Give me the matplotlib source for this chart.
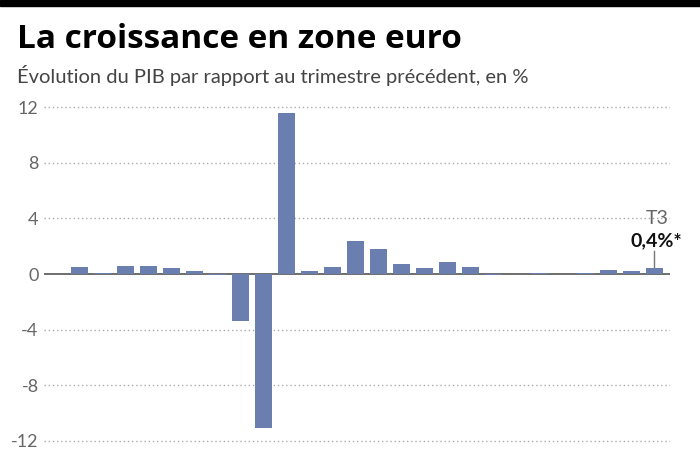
import numpy as np
import matplotlib.pyplot as plt
from matplotlib.patches import Rectangle

# Quarterly GDP growth, euro zone (% vs previous quarter)
growth = [0.5, 0.1, 0.6, 0.6, 0.4, 0.2, -0.1, -3.4, -11.1, 11.6,
          0.2, 0.5, 2.4, 1.8, 0.7, 0.4, 0.9, 0.5, -0.1, 0.0,
          0.1, 0.0, 0.1, 0.3, 0.2, 0.4]
y_ticks = [-12, -8, -4, 0, 4, 8, 12]
last_label = "T3"
last_value = "0,4%*"

bar_color = "#6a7fb0"
font = "Lato"

fig = plt.figure(figsize=(7, 4.5), dpi=100)
ax = fig.add_axes([0.063, 0.014, 0.894, 0.754])

x = np.arange(len(growth))
ax.bar(x, growth, width=0.74, color=bar_color, zorder=3)

ax.set_xlim(-1.54, 25.67)
ax.set_ylim(-12.2, 12.2)

# Dotted grid and solid zero line.
for t in y_ticks:
    if t == 0:
        ax.axhline(0, color="#555555", lw=1.2, zorder=2)
    else:
        ax.axhline(t, color="#aaaaaa", lw=1.0, ls=(0, (1, 2)), zorder=1)

ax.set_yticks(y_ticks)
ax.set_yticklabels([str(t) for t in y_ticks], fontsize=13, color="#666666",
                   fontfamily=font)
ax.tick_params(axis="y", length=0, pad=4)
ax.set_xticks([])
for s in ax.spines.values():
    s.set_visible(False)

# Annotation on the last quarter.
xl = x[-1]
ax.plot([xl, xl], [growth[-1], 1.65], color="#777777", lw=1.0, zorder=2)
ax.text(xl + 0.1, 4.0, last_label, ha="center", va="center", fontsize=14,
        color="#666666", fontfamily=font)
ax.text(xl + 0.1, 2.4, last_value, ha="center", va="center", fontsize=14,
        color="#111111", fontfamily=font, fontweight="bold")

# Header.
fig.patches.append(Rectangle((0, 1 - 6 / 450), 1, 6 / 450,
                             transform=fig.transFigure, color="black"))
fig.text(0.024, 1 - 48 / 450, "La croissance en zone euro", ha="left",
         va="baseline", fontsize=24, fontweight="bold",
         fontfamily="Open Sans", color="black")
fig.text(0.024, 1 - 83 / 450,
         "Évolution du PIB par rapport au trimestre précédent, en %",
         ha="left", va="baseline", fontsize=14.5, fontfamily=font,
         color="#444444")

plt.savefig("out.png", dpi=100)
